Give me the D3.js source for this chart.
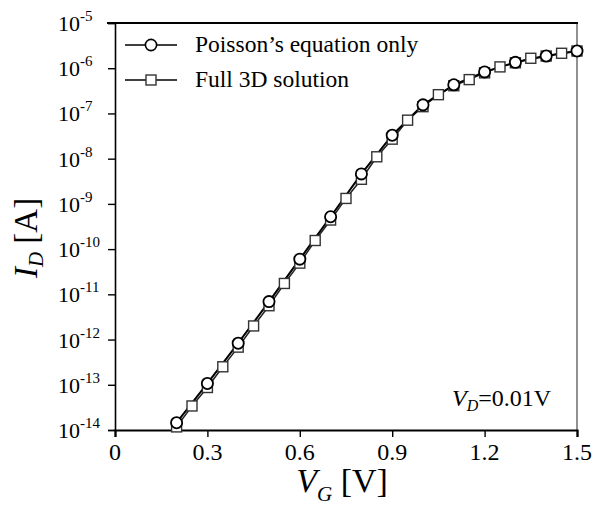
<!DOCTYPE html>
<html><head><meta charset="utf-8">
<script src="https://cdn.jsdelivr.net/npm/d3@7"></script>
<style>body{margin:0;background:#fff}svg{display:block}</style>
</head><body>
<script>
// Data
const vgPoisson = [0.2,0.3,0.4,0.5,0.6,0.7,0.8,0.9,1.0,1.1,1.2,1.3,1.4,1.5];
const idPoisson = [1.45e-14,1.07e-13,8.3e-13,6.9e-12,6.0e-11,5.2e-10,4.6e-9,3.3e-8,1.55e-7,4.3e-7,8.3e-7,1.35e-6,1.86e-6,2.4e-6];
const vgFull = [0.2,0.25,0.3,0.35,0.4,0.45,0.5,0.55,0.6,0.65,0.7,0.75,0.8,0.85,0.9,0.95,1.0,1.05,1.1,1.15,1.2,1.25,1.3,1.35,1.4,1.45,1.5];
const idFull = [1.17e-14,3.4e-14,8.7e-14,2.5e-13,6.8e-13,2.0e-12,5.6e-12,1.74e-11,4.9e-11,1.55e-10,4.4e-10,1.32e-9,3.5e-9,1.1e-8,2.7e-8,7.1e-8,1.41e-7,2.6e-7,4.1e-7,5.6e-7,7.9e-7,1.07e-6,1.32e-6,1.66e-6,1.86e-6,2.14e-6,2.4e-6];
const xTicks = [0,0.3,0.6,0.9,1.2,1.5];
const xTickLabels = ["0","0.3","0.6","0.9","1.2","1.5"];
const yExps = [-5,-6,-7,-8,-9,-10,-11,-12,-13,-14];
const seriesNames = ["Poisson\u2019s equation only","Full 3D solution"];

const FONT="'Liberation Serif','DejaVu Serif',serif";
const W=592,H=506;
const L=115,R=577,T=23,B=430;
const svg=d3.select("body").append("svg").attr("width",W).attr("height",H)
  .attr("font-family",FONT).style("font-family",FONT);
const x=d3.scaleLinear().domain([0,1.5]).range([L,R]);
const y=d3.scaleLog().domain([1e-14,1e-5]).range([B,T]);
function txt(sel){return sel.append("text").attr("font-family",FONT).style("font-family",FONT).attr("fill","#000");}

// frame
svg.append("line").attr("x1",R).attr("x2",R).attr("y1",T).attr("y2",B).attr("stroke","#555").attr("stroke-width",1.3);
svg.append("line").attr("x1",L-8).attr("x2",R+1).attr("y1",T).attr("y2",T).attr("stroke","#000").attr("stroke-width",2);

// axes
const yAxis=d3.axisLeft(y).tickValues(yExps.map(e=>Math.pow(10,e))).tickSize(7).tickFormat("");
const gy=svg.append("g").attr("transform",`translate(${L},0)`).call(yAxis);
gy.select(".domain").attr("stroke-width",1.6);
gy.selectAll(".tick line").attr("stroke-width",1.4);
const xAxis=d3.axisBottom(x).tickValues(xTicks).tickSize(7).tickFormat("");
const gx=svg.append("g").attr("transform",`translate(0,${B})`).call(xAxis);
gx.select(".domain").attr("stroke-width",2.2);
gx.selectAll(".tick line").attr("stroke-width",1.4);

// y tick labels
yExps.forEach(e=>{
  const t=txt(svg).attr("x",58).attr("y",y(Math.pow(10,e))+8).attr("font-size",22);
  t.append("tspan").text("10");
  t.append("tspan").attr("dy",-10).attr("font-size",15).text("-"+Math.abs(e));
});
// x tick labels
xTicks.forEach((v,i)=>{
  txt(svg).attr("x",x(v)).attr("y",B+30).attr("text-anchor","middle").attr("font-size",24).text(xTickLabels[i]);
});

// axis titles
const xt=txt(svg).attr("x",342).attr("y",492).attr("text-anchor","middle").attr("font-size",34);
xt.append("tspan").attr("font-style","italic").text("V");
xt.append("tspan").attr("font-style","italic").attr("font-size",21).attr("dy",9).text("G");
xt.append("tspan").attr("dy",-9).text(" [V]");

const yt=txt(svg).attr("transform","translate(37,238) rotate(-90)").attr("text-anchor","middle").attr("font-size",33);
yt.append("tspan").attr("font-style","italic").text("I");
yt.append("tspan").attr("font-style","italic").attr("font-size",21).attr("dy",6).text("D");
yt.append("tspan").attr("dy",-6).text(" [A]");

// annotation
const an=txt(svg).attr("x",452).attr("y",406).attr("font-size",24);
an.append("tspan").attr("font-style","italic").text("V");
an.append("tspan").attr("font-style","italic").attr("font-size",16).attr("dy",5).text("D");
an.append("tspan").attr("dy",-5).text("=0.01V");

// lines
const line=d3.line().x(d=>x(d[0])).y(d=>y(d[1]));
const fullPts=vgFull.map((v,i)=>[v,idFull[i]]);
const poisPts=vgPoisson.map((v,i)=>[v,idPoisson[i]]);
svg.append("path").attr("d",line(fullPts)).attr("fill","none").attr("stroke","#222").attr("stroke-width",1.5);
svg.append("path").attr("d",line(poisPts)).attr("fill","none").attr("stroke","#000").attr("stroke-width",2);

const S=10;
svg.selectAll("rect.full").data(fullPts).enter().append("rect")
  .attr("x",d=>x(d[0])-S/2).attr("y",d=>y(d[1])-S/2).attr("width",S).attr("height",S)
  .attr("fill","#fff").attr("stroke","#333").attr("stroke-width",1.4);
svg.selectAll("circle.pois").data(poisPts).enter().append("circle")
  .attr("cx",d=>x(d[0])).attr("cy",d=>y(d[1])).attr("r",5.6)
  .attr("fill","#fff").attr("stroke","#000").attr("stroke-width",1.8);

// legend
const lg=[{y:45,type:"c"},{y:80,type:"s"}];
lg.forEach((l,i)=>{
  svg.append("line").attr("x1",125).attr("x2",177).attr("y1",l.y).attr("y2",l.y).attr("stroke","#000").attr("stroke-width",1.5);
  if(l.type==="c") svg.append("circle").attr("cx",151).attr("cy",l.y).attr("r",5.6).attr("fill","#fff").attr("stroke","#000").attr("stroke-width",1.6);
  else svg.append("rect").attr("x",151-S/2).attr("y",l.y-S/2).attr("width",S).attr("height",S).attr("fill","#fff").attr("stroke","#333").attr("stroke-width",1.4);
  txt(svg).attr("x",195).attr("y",l.y+7).attr("font-size",23.5).text(seriesNames[i]);
});
</script>
</body></html>
